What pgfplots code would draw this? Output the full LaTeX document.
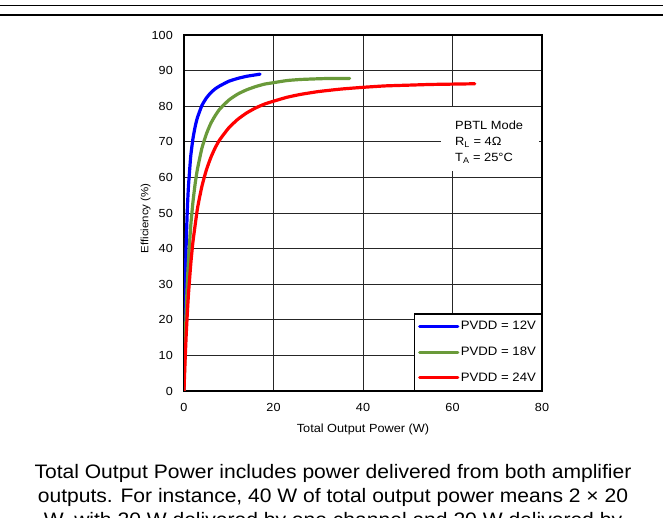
\documentclass[border=0pt]{standalone}
\usepackage{pgfplots}
\pgfplotsset{compat=1.18}
\usepackage{fontspec}
\setmainfont{Liberation Sans}[FakeStretch=1.08]
\definecolor{cblue}{RGB}{0,0,255}
\definecolor{cgreen}{RGB}{106,154,58}
\definecolor{cred}{RGB}{255,0,0}
\newcommand{\fs}[1]{\fontsize{#1bp}{#1bp}\selectfont}
\begin{document}
\begin{tikzpicture}[x=1bp,y=1bp]
\useasboundingbox (0,0) rectangle (663,518);
\draw[line width=1.2bp] (0,512.7) -- (663,512.7);
\draw[line width=1.2bp] (0,503) -- (663,503);
\begin{axis}[
 at={(184bp,127bp)}, anchor=south west, scale only axis, width=358bp, height=356bp,
 xmin=0,xmax=80,ymin=0,ymax=100,
 xtick={0,20,40,60,80}, ytick={0,10,...,100},
 grid=major, grid style={line width=0.9bp, black!85},
 axis line style={line width=1.3bp}, major tick length=0pt, tick align=inside,
 /pgf/number format/assume math mode=true,
 ticklabel style={font=\fs{11.7}, inner sep=0pt},
 xticklabel style={anchor=north, yshift=-12bp},
 yticklabel style={anchor=east, xshift=-11bp},
 xlabel={Total Output Power (W)}, ylabel={Efficiency (\%)},
 xlabel style={font=\fs{11.8}, at={(axis description cs:0.5,-0.1152)}, anchor=base, inner sep=0pt},
 ylabel style={font=\fs{10.6}, at={(axis description cs:-0.0992,0.485)}, anchor=base, inner sep=0pt},
 legend style={at={(1,0)}, anchor=south east, draw=black, line width=1.2bp, fill=white,
   font=\fs{12.2}, inner xsep=4bp, inner ysep=6bp, row sep=12.7bp,
   nodes={inner sep=1.5bp}},
 legend cell align=left,
 legend image code/.code={\draw[#1, line width=3.2bp] (0bp,0bp) -- (38bp,0bp);},
]
\addplot[cblue, line width=3.2bp, line join=round, line cap=round, smooth, tension=0.3] coordinates {
(0,0)(0.05,7.1)(0.1,13.2)(0.2,23.1)(0.3,30.8)(0.5,41.9)(0.75,51.2)(1,57.6)(1.5,65.9)(2,70.9)(2.5,74.3)(3,76.8)(4,80.2)(5,82.3)(6,83.8)(7,84.9)(8,85.7)(10,87.0)(12,87.8)(14,88.4)(16,88.8)(17,89.0)};
\addplot[cgreen, line width=3.2bp, line join=round, line cap=round, smooth, tension=0.3] coordinates {
(0,0)(0.1,5.6)(0.2,10.6)(0.4,19.1)(0.7,29.1)(1,36.8)(1.5,46.3)(2,53.1)(2.5,58.3)(3,62.3)(4,68.2)(5,72.2)(6,75.2)(7,77.4)(8,79.2)(10,81.7)(12,83.4)(14,84.6)(16,85.5)(18,86.2)(20,86.6)(23,87.2)(26,87.5)(30,87.7)(33,87.8)(37,87.8)};
\addplot[cred, line width=3.2bp, line join=round, line cap=round, smooth, tension=0.3] coordinates {
(0,0)(0.1,3.7)(0.25,8.7)(0.5,16.0)(0.75,22.0)(1,27.2)(1.5,35.5)(2,41.9)(3,51.2)(4,57.5)(5,62.1)(6,65.6)(7,68.4)(8,70.6)(10,73.9)(12,76.3)(14,78.1)(16,79.5)(18,80.6)(20,81.4)(23,82.5)(26,83.3)(30,84.1)(35,84.8)(40,85.3)(45,85.7)(50,85.9)(55,86.1)(60,86.2)(65,86.3)};
\legend{PVDD = 12V, PVDD = 18V, PVDD = 24V}
\end{axis}
\fill[white] (441,347) rectangle (538.5,411);
\node[anchor=base west, inner sep=0pt, font=\fs{11.9}] at (455,388.7) {PBTL Mode};
\node[anchor=base west, inner sep=0pt, font=\fs{11.9}] at (455,372) {R\textsubscript{L} = 4Ω};
\node[anchor=base west, inner sep=0pt, font=\fs{11.9}] at (455,356.3) {T\textsubscript{A} = 25°C};
\node[anchor=base, font=\fs{19.5}, inner sep=0pt] at (333,39.7) {Total Output Power includes power delivered from both amplifier};
\node[anchor=base, font=\fs{19.5}, inner sep=0pt] at (333,15.3) {outputs. For instance, 40 W of total output power means 2 × 20};
\node[anchor=base, font=\fs{19.5}, inner sep=0pt] at (333,-9) {W, with 20 W delivered by one channel and 20 W delivered by};
\end{tikzpicture}
\end{document}
